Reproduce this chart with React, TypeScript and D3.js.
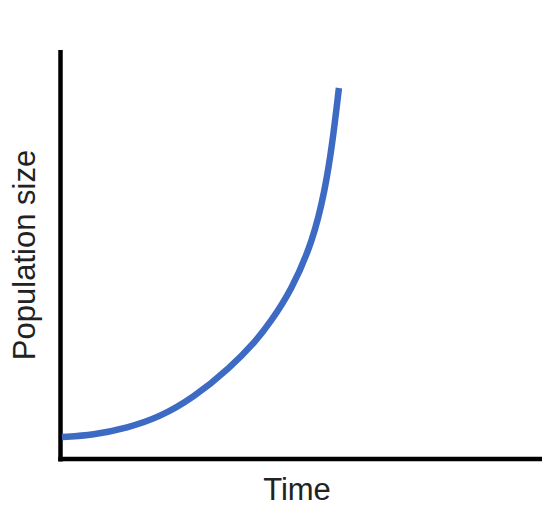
import React from "react";
import * as d3 from "d3";

const timeValues = [0.02, 0.67, 1.38, 2.06, 2.75, 3.52, 4.08, 4.35, 4.79, 5.25, 5.5, 5.65, 5.79];
const populationValues = [5.38, 5.87, 7.58, 10.27, 14.91, 22.25, 29.1, 33.3, 41.0, 53.3, 65.77, 76.77, 90.71];
const xLabel = "Time";
const yLabel = "Population size";

const W = 554;
const H = 518;

export default function App() {
  const x = d3.scaleLinear().domain([0, 10]).range([61, 541]);
  const y = d3.scaleLinear().domain([0, 100]).range([459, 50]);
  const pts: [number, number][] = timeValues.map((t, i) => [t, populationValues[i]]);
  const line = d3
    .line<[number, number]>()
    .x((d) => x(d[0]))
    .y((d) => y(d[1]))
    .curve(d3.curveBasis);
  const font = "'Liberation Sans', Arial, Helvetica, sans-serif";
  return (
    <svg width={W} height={H} style={{ position: "absolute", left: 0, top: 0 }}>
      <rect width={W} height={H} fill="#fff" />
      <line x1={x(0) - 0.5} x2={x(0) - 0.5} y1={y(100)} y2={y(0) + 2.5} stroke="#000" strokeWidth={4.5} />
      <line x1={x(0) - 2.75} x2={x(10) + 1} y1={y(0)} y2={y(0)} stroke="#000" strokeWidth={4.5} />
      <path d={line(pts) || ""} fill="none" stroke="#3d6bc4" strokeWidth={6.5} strokeLinecap="butt" />
      <text x={297} y={500} textAnchor="middle" fontFamily={font} fontSize={31} fill="#222">
        {xLabel}
      </text>
      <text
        transform="translate(35,255) rotate(-90)"
        textAnchor="middle"
        fontFamily={font}
        fontSize={31}
        fill="#222"
      >
        {yLabel}
      </text>
    </svg>
  );
}
